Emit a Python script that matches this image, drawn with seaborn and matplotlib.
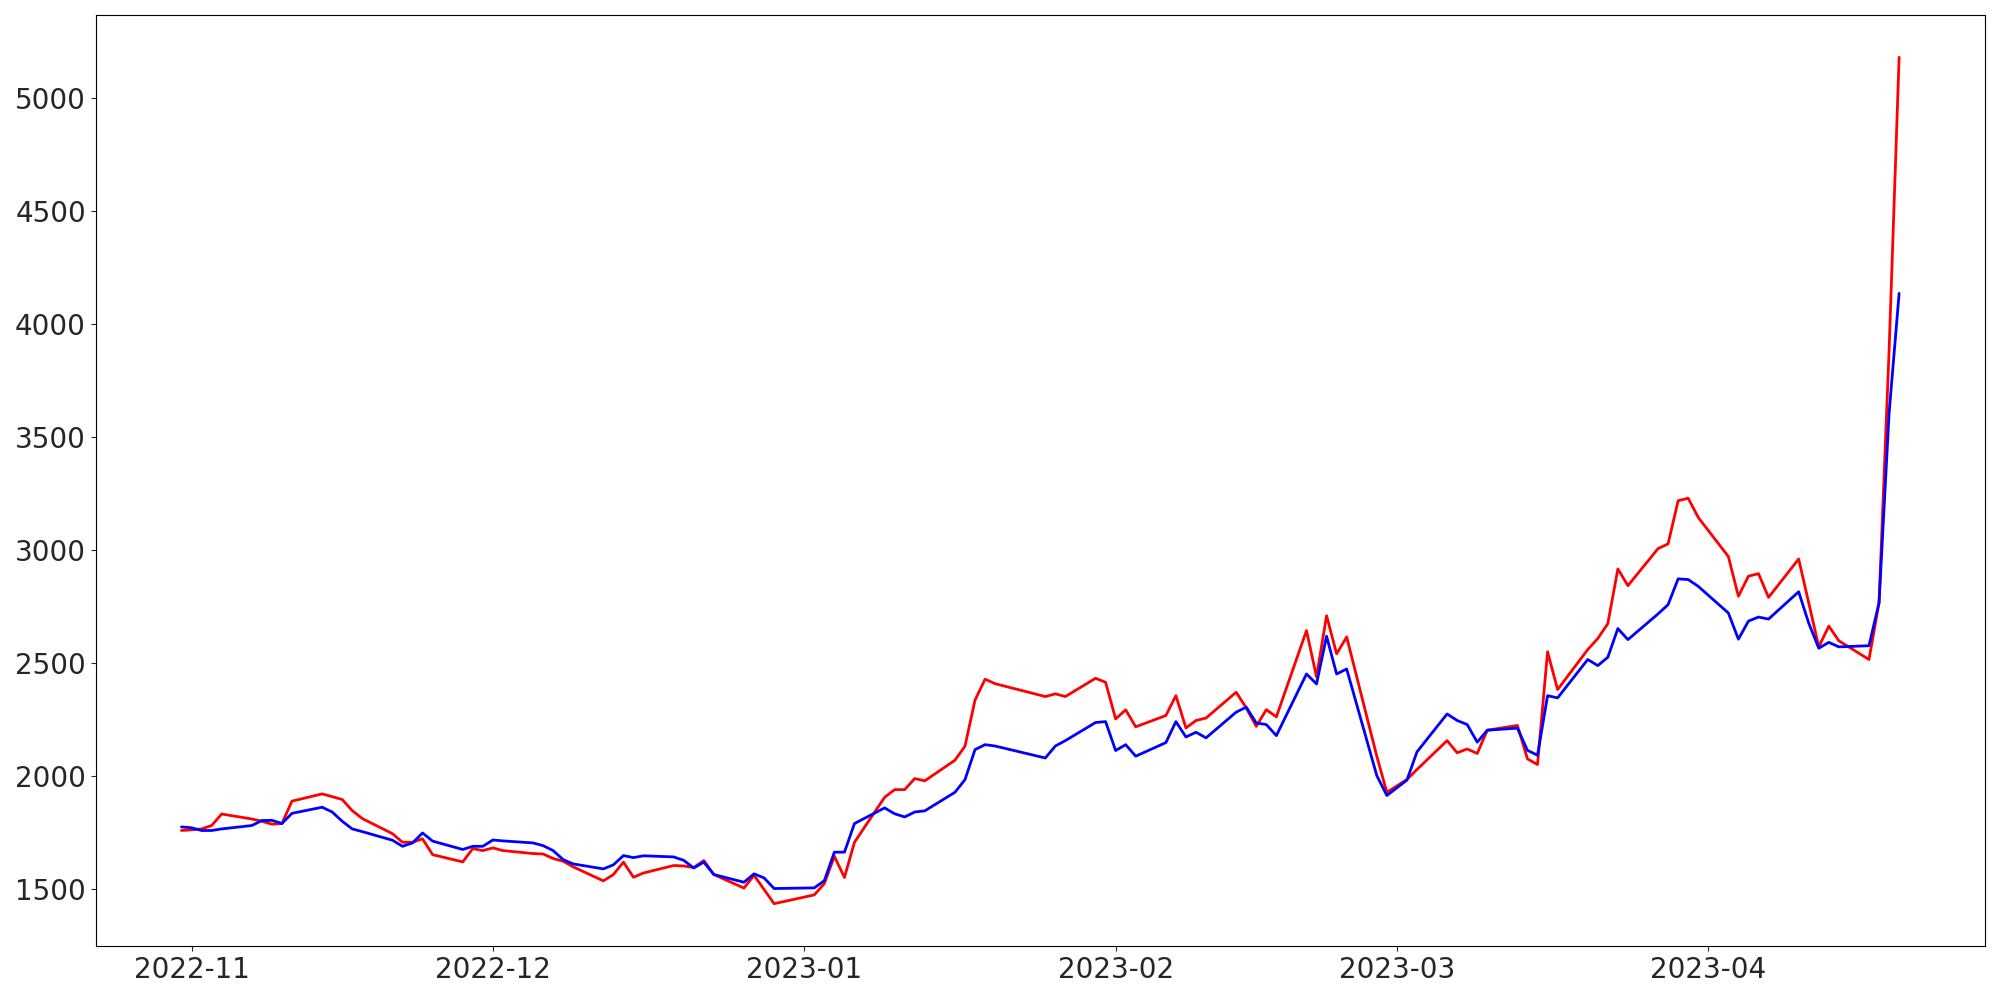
import pandas as pd
import matplotlib
matplotlib.use('Agg')
import matplotlib.pyplot as plt
import matplotlib.dates as mdates
import seaborn as sns

# Ngay giao dich (san Han Quoc: nghi 30/12, Tet 23-24/1, 1/3)
holidays = ['2022-12-30', '2023-01-23', '2023-01-24', '2023-03-01']
dates = pd.bdate_range('2022-10-31', '2023-04-20', freq='C', holidays=holidays)

red_values = [
    1757,
    1760, 1764, 1779, 1830, 1808, 1798, 1785, 1788, 1887, 1919, 1907, 1894,
    1845, 1810, 1743, 1705, 1705, 1720, 1650, 1618, 1677, 1668,
    1680, 1668, 1655, 1653, 1633, 1621, 1596, 1534, 1562, 1617, 1550, 1569,
    1602, 1600, 1593, 1624, 1562, 1502, 1559, 1496, 1433,
    1472, 1522, 1643, 1549, 1705, 1904, 1938, 1938, 1987, 1977, 2068, 2130,
    2334, 2427, 2407, 2350, 2362, 2350, 2431, 2413,
    2251, 2291, 2216, 2266, 2354, 2211, 2244, 2255, 2369, 2300, 2218, 2292,
    2260, 2642, 2437, 2708, 2539, 2614, 2086, 1926,
    1983, 2027, 2155, 2101, 2118, 2098, 2201, 2222, 2074, 2049, 2548, 2381,
    2558, 2607, 2673, 2915, 2841, 3005, 3026, 3217, 3228, 3143,
    2970, 2794, 2883, 2894, 2789, 2959, 2765, 2570, 2662, 2597, 2514, 2765,
    3880, 5180,
]

blue_values = [
    1773,
    1769, 1757, 1757, 1764, 1779, 1801, 1802, 1788, 1833, 1860, 1839, 1798,
    1764, 1752, 1714, 1687, 1702, 1746, 1710, 1673, 1687, 1687,
    1715, 1711, 1702, 1690, 1668, 1628, 1609, 1587, 1605, 1646, 1637, 1645,
    1640, 1625, 1591, 1617, 1562, 1528, 1565, 1547, 1500,
    1503, 1535, 1661, 1661, 1788, 1857, 1831, 1817, 1839, 1844, 1926, 1982,
    2115, 2137, 2131, 2078, 2131, 2155, 2235, 2239,
    2111, 2137, 2086, 2146, 2239, 2171, 2192, 2167, 2281, 2303, 2233, 2226,
    2177, 2450, 2406, 2617, 2450, 2472, 2000, 1912,
    1980, 2105, 2273, 2244, 2226, 2148, 2201, 2210, 2112, 2090, 2354, 2344,
    2514, 2487, 2524, 2651, 2602, 2716, 2757, 2871, 2868, 2838,
    2720, 2604, 2684, 2702, 2693, 2814, 2675, 2564, 2590, 2570, 2575, 2765,
    3603, 4135,
]


def set_plot_style():
    """Style mac dinh cua matplotlib, khong luoi"""
    plt.style.use('default')
    sns.set_style("ticks")
    plt.rcParams['font.family'] = ['DejaVu Sans']
    plt.rcParams['figure.dpi'] = 100


def draw_chart():
    set_plot_style()
    df = pd.DataFrame({'date': dates, 'red': red_values, 'blue': blue_values})

    fig, ax = plt.subplots(figsize=(20, 10))
    sns.lineplot(data=df, x='date', y='red', color='red', linewidth=2, ax=ax)
    sns.lineplot(data=df, x='date', y='blue', color='blue', linewidth=2, ax=ax)

    ax.xaxis.set_major_locator(mdates.MonthLocator())
    ax.xaxis.set_major_formatter(mdates.DateFormatter('%Y-%m'))
    ax.tick_params(labelsize=20)
    ax.set_xlabel('')
    ax.set_ylabel('')
    for side in ['top', 'right', 'left', 'bottom']:
        ax.spines[side].set_visible(True)
        ax.spines[side].set_color('black')

    fig.subplots_adjust(left=0.0478, right=0.9925, top=0.985, bottom=0.054)
    plt.savefig('out.png', dpi=100)
    plt.close()


if __name__ == "__main__":
    draw_chart()
